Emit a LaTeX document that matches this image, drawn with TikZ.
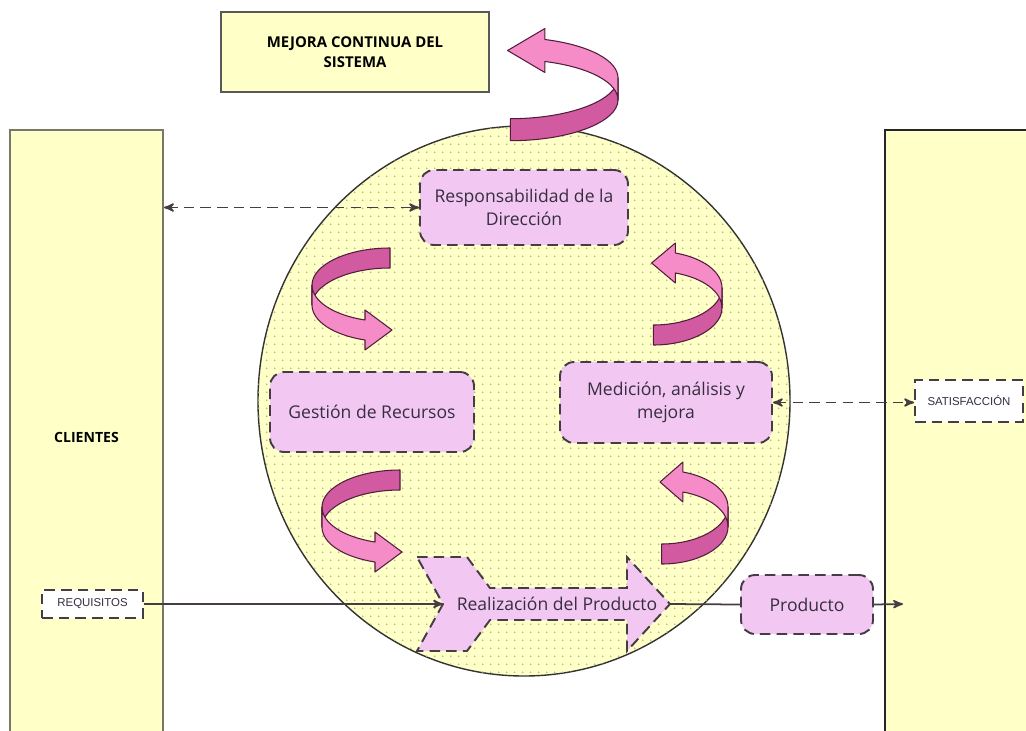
\documentclass[tikz,border=0pt]{standalone}
\usepackage{fontspec}
\setmainfont{Open Sans}
\newfontfamily\arialfont{Liberation Sans}
\usetikzlibrary{arrows,patterns.meta}

\definecolor{amarillo}{RGB}{255,255,200}
\definecolor{bordepanel}{RGB}{120,120,105}
\definecolor{punto}{RGB}{170,185,120}
\definecolor{rosa}{RGB}{242,200,242}
\definecolor{bordecaja}{RGB}{70,60,70}
\definecolor{texto}{RGB}{55,45,65}
\definecolor{cintaosc}{RGB}{210,90,160}
\definecolor{cintacla}{RGB}{245,140,200}
\definecolor{bordecinta}{RGB}{80,30,60}

\tikzdeclarepattern{name=puntos, type=uncolored,
  bounding box={(0,0) and (4.4pt,4.4pt)}, tile size={(4.4pt,4.4pt)},
  code={\fill (2.2pt,2.2pt) circle (0.55pt);}}

\tikzset{
  panel/.style = {draw=bordepanel, fill=amarillo, line width=1.2pt, inner sep=0pt},
  caja/.style = {draw=bordecaja, fill=rosa, dash pattern=on 6pt off 3.5pt,
    line width=1.1pt, rounded corners=8pt, align=center, text=texto,
    font=\fontsize{10}{13}\selectfont, inner sep=0pt},% cajas de procesos
  etiqueta/.style = {draw=bordecaja, fill=white, dash pattern=on 6pt off 3.5pt,
    line width=1.1pt, inner sep=0pt, text=texto,
    font=\arialfont\fontsize{6.5}{8}\selectfont},% requisitos, satisfaccion
  mejora/.style = {draw=black!65, fill=amarillo, line width=1pt, align=center,
    font=\bfseries\fontsize{8.5}{11}\selectfont, inner sep=0pt},
  enlace/.style = {draw=bordecaja, line width=1pt},
  discontinuo/.style = {dash pattern=on 6pt off 3.5pt},
  bordecinta/.style = {draw=bordecinta, line width=0.6pt, line join=round}
}

% flecha curva en cinta, con el pliegue en el origen
\newcommand{\cinta}[1]{%
  \begin{scope}[#1]
    \filldraw[bordecinta, fill=cintaosc] (78,-47) .. controls (35,-47) and (0,-30) .. (0,-10)
      -- (0,10) .. controls (0,-10) and (35,-27) .. (78,-27) -- cycle;
    \filldraw[bordecinta, fill=cintacla] (0,-10) .. controls (0,6) and (21,20) .. (53,25)
      -- (53,15) -- (80,35) -- (53,55) -- (53,45) .. controls (21,40) and (0,26) .. (0,10) -- cycle;
  \end{scope}}

\begin{document}
\begin{tikzpicture}[x=0.02cm, y=-0.02cm, >=stealth']
  \useasboundingbox (0,0) rectangle (1026,730);
  \clip (0,0) rectangle (1026,730);

  % paneles laterales
  \node[panel, minimum width=3.06cm, minimum height=12.3cm,
    font=\bfseries\fontsize{8}{10}\selectfont] (clientes) at (86.5,437.5) {CLIENTES};
  \node[panel, draw=black!85, minimum width=2.9cm, minimum height=12.3cm] (derecha) at (957.5,437.5) {};
  \node[mejora, minimum width=5.36cm, minimum height=1.6cm] (mejora) at (355,52) {MEJORA CONTINUA DEL\\SISTEMA};

  % sistema
  \filldraw[fill=amarillo, draw=black!80, line width=0.8pt] (524,401) ellipse (266 and 275);
  \path[pattern=puntos, pattern color=punto] (524,401) ellipse (266 and 275);

  % procesos
  \node[caja, minimum width=4.16cm, minimum height=1.5cm] (resp) at (524,207.5) {Responsabilidad de la\\Dirección};
  \node[caja, minimum width=4.08cm, minimum height=1.6cm] (gest) at (372,412) {Gestión de Recursos};
  \node[caja, minimum width=4.24cm, minimum height=1.62cm] (med) at (666,402.5) {Medición, análisis y\\mejora};
  \node[caja, minimum width=2.64cm, minimum height=1.18cm] (prod) at (807,604.5) {Producto};
  \node[etiqueta, minimum width=2.02cm, minimum height=0.56cm] (req) at (92.5,604) {REQUISITOS};
  \node[etiqueta, minimum width=2.16cm, minimum height=0.84cm] (sat) at (969,401) {SATISFACCIÓN};

  % realizacion del producto
  \filldraw[caja, rounded corners=0pt] (417,557) -- (467,557) -- (490,588) -- (627,588) -- (627,557)
    -- (670,604) -- (627,651) -- (627,620) -- (490,620) -- (467,651) -- (417,651) -- (443,604) -- cycle;
  \coordinate (muesca) at (443,604);
  \coordinate (punta) at (670,604);
  \coordinate (entrada) at (903,604);
  \node[text=texto, font=\fontsize{10}{13}\selectfont] (real) at (557,604) {Realización del Producto};

  % enlaces
  \draw[enlace, discontinuo, <->] (clientes.east |- resp.west) -- (resp.west);
  \draw[enlace, discontinuo, <->] (med.east) -- (sat.west |- med.east);
  \draw[enlace, ->] (req.east) -- (muesca);
  \draw[enlace] (punta) -- (prod.west);
  \draw[enlace, ->] (prod.east) -- (entrada);

  % flechas curvas
  \cinta{shift={(312,295)}}
  \cinta{shift={(322,517)}}
  \cinta{shift={(722,298)}, xscale=-0.88, yscale=-1}
  \cinta{shift={(728,517)}, xscale=-0.85, yscale=-1}
  \cinta{shift={(618,89)}, xscale=-1.38, yscale=-1.1}
\end{tikzpicture}
\end{document}
